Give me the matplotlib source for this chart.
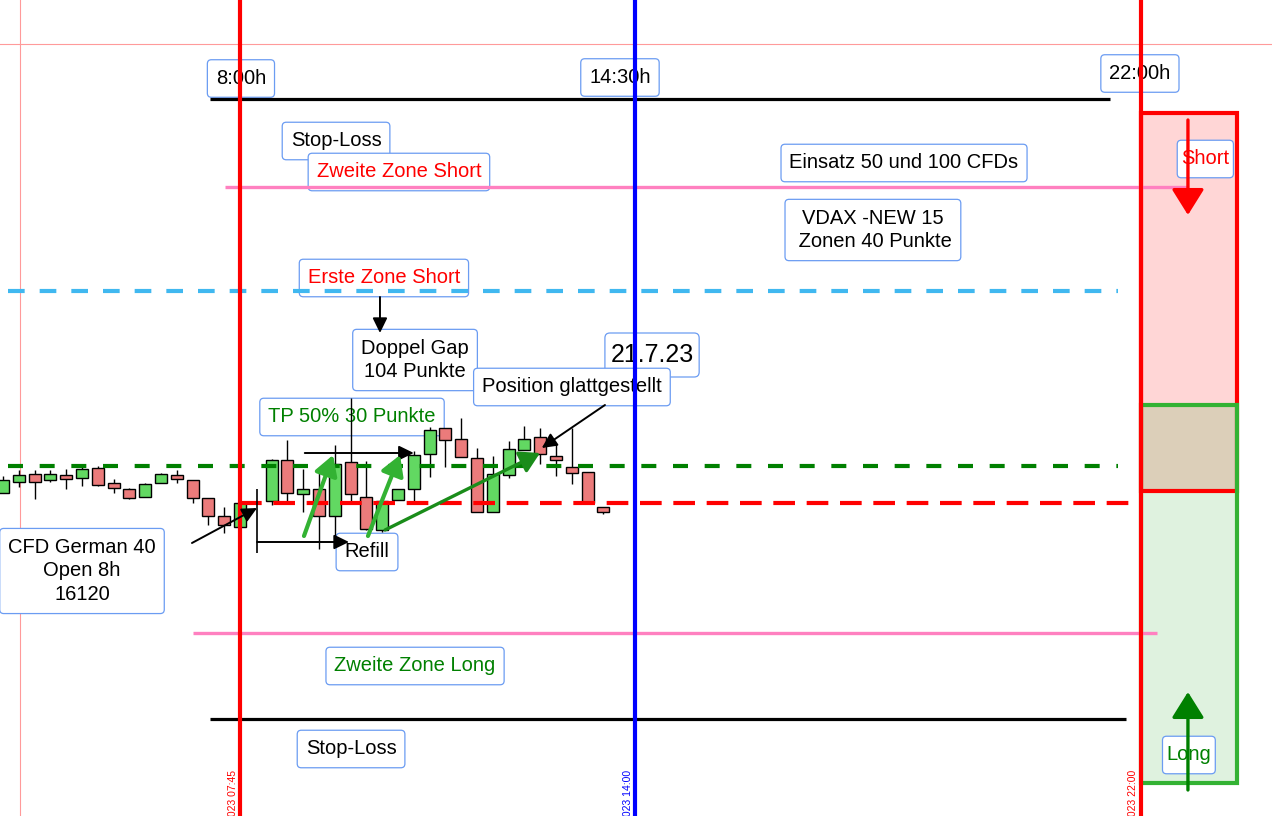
import numpy as np
import matplotlib
matplotlib.use("Agg")
import matplotlib.pyplot as plt
from matplotlib.patches import Rectangle, BoxStyle

plt.rcParams["font.family"] = ["Liberation Sans", "DejaVu Sans"]

# CFD German 40, 15 min candles on 21.7.23 (bar 16 has no candle)
opens = [16093, 16104, 16112, 16106, 16111, 16108, 16118, 16103, 16097, 16089,
         16103, 16111, 16106, 16088, 16070, 16059, np.nan, 16085, 16126, 16092,
         16097, 16070, 16124, 16089, 16056, 16086, 16097, 16132, 16158, 16147,
         16128, 16074, 16111, 16136, 16149, 16130, 16119, 16114, 16079]
highs = [16110, 16116, 16116, 16116, 16117, 16122, 16120, 16107, 16098, 16103,
         16113, 16116, 16106, 16088, 16079, 16083, np.nan, 16127, 16146, 16117,
         16116, 16141, 16188, 16125, 16085, 16097, 16135, 16159, 16158, 16168,
         16138, 16130, 16145, 16160, 16158, 16142, 16158, 16114, 16079]
lows = [16093, 16099, 16087, 16104, 16097, 16100, 16100, 16093, 16087, 16089,
        16103, 16103, 16083, 16061, 16053, 16059, np.nan, 16081, 16083, 16074,
        16037, 16044, 16083, 16056, 16054, 16086, 16085, 16109, 16119, 16129,
        16074, 16074, 16108, 16136, 16122, 16110, 16102, 16083, 16072]
closes = [16106, 16111, 16104, 16112, 16107, 16117, 16101, 16098, 16088, 16102,
          16112, 16107, 16088, 16070, 16061, 16083, np.nan, 16126, 16093, 16097,
          16070, 16122, 16092, 16057, 16085, 16097, 16131, 16156, 16146, 16129,
          16074, 16112, 16137, 16147, 16132, 16126, 16113, 16083, 16074]

# levels
stop_short = 16487
zone2_short = 16399
zone1_short = 16295
open_level = 16120
gap_level = 16083
zone2_long = 15953
stop_long = 15867
grid_level = 16542

# session lines (bar index) and their labels
session_bars = [15, 40, 72]
session_colors = ["#ff0000", "#0000ff", "#ff0000"]
session_labels = ["8:00h", "14:30h", "22:00h"]
session_label_pos = [(15.06, 16507.5), (39.05, 16508.5), (71.96, 16512.5)]
stamp_labels = ["21.07.2023 07:45", "21.07.2023 14:00", "21.07.2023 22:00"]

short_zone = [16095, 16473]
long_zone = [15803, 16181]
panel_bars = [72, 78.1]

fig = plt.figure(figsize=(12.72, 8.16), dpi=100)
ax = fig.add_axes([0, 0, 1, 1])
ax.set_xlim(-0.19, 80.32)
ax.set_ylim(15770, 16586)
ax.axis("off")

_round = BoxStyle.Round(pad=0.0, rounding_size=0.2)


def make_box(padx, pady):
    def box(x0, y0, width, height, mutation_size):
        px = padx * mutation_size
        py = pady * mutation_size
        return _round(x0 - px, y0 - py, width + 2 * px, height + 2 * py, mutation_size)
    return box


def label(x, y, s, color="black", size=14.5, padx=0.42, pady=0.46):
    ax.text(x, y, s, color=color, fontsize=size, ha="center", va="center",
            multialignment="center", linespacing=1.32, zorder=1,
            bbox=dict(boxstyle=make_box(padx, pady), fc="white", ec="#6b9cf2", lw=0.9))


def arrow(start, end, color="black", lw=1.4, head="-|>,head_length=0.45,head_width=0.22"):
    ax.annotate("", xy=end, xytext=start, zorder=5,
                arrowprops=dict(arrowstyle=head, color=color, lw=lw,
                                mutation_scale=20, shrinkA=0, shrinkB=0))


# thin reference grid lines
ax.axhline(grid_level, color="#ff9a9a", lw=0.8, zorder=0.5)
ax.axvline(1.08, color="#ff9a9a", lw=0.8, zorder=0.5)

# right panel: short / long zones
pw = panel_bars[1] - panel_bars[0]
ax.add_patch(Rectangle((panel_bars[0], short_zone[0]), pw, short_zone[1] - short_zone[0],
                       fc="#ffd6d6", ec="none", zorder=0.6))
ax.add_patch(Rectangle((panel_bars[0], long_zone[0]), pw, long_zone[1] - long_zone[0],
                       fc="#dff2df", ec="none", zorder=0.6))
ax.add_patch(Rectangle((panel_bars[0], short_zone[0]), pw, long_zone[1] - short_zone[0],
                       fc="#dccfb9", ec="none", zorder=0.7))
ax.add_patch(Rectangle((panel_bars[0], short_zone[0]), pw, short_zone[1] - short_zone[0],
                       fc="none", ec="#ff0000", lw=3, zorder=2))
ax.add_patch(Rectangle((panel_bars[0], long_zone[0]), pw, long_zone[1] - long_zone[0],
                       fc="none", ec="#33b233", lw=3, zorder=2.1))

# text boxes
for (lx, ly), s in zip(session_label_pos, session_labels):
    label(lx, ly, s)
label(21.08, 16445, "Stop-Loss")
label(25.06, 16414, "Zweite Zone Short", color="#ff0000")
label(57.03, 16423, "Einsatz 50 und 100 CFDs")
label(55.06, 16356, "VDAX -NEW 15\n Zonen 40 Punkte")
label(24.11, 16308, "Erste Zone Short", color="#ff0000")
label(26.08, 16226, "Doppel Gap\n104 Punkte")
label(41.08, 16231, "21.7.23", size=18, padx=0.22, pady=0.4)
label(36.01, 16199, "Position glattgestellt")
label(22.09, 16169, "TP 50% 30 Punkte", color="#008000")
label(5.0, 16015, "CFD German 40\nOpen 8h\n16120")
label(23.04, 16034, "Refill")
label(26.08, 15920, "Zweite Zone Long", color="#008000")
label(22.03, 15837, "Stop-Loss")
label(76.1, 16427, "Short", color="#ff0000", padx=0.2)
label(75.06, 15831, "Long", color="#008000", padx=0.2)

# candles
o = np.array(opens, float)
h = np.array(highs, float)
l = np.array(lows, float)
c = np.array(closes, float)
x = np.arange(len(o))
ok = ~np.isnan(o)
up = c >= o
ax.vlines(x[ok], l[ok], h[ok], color="black", lw=1, zorder=2)
ax.bar(x[ok], (c - o)[ok], bottom=o[ok], width=0.76,
       color=np.where(up, "#62d862", "#eb7b7b")[ok], edgecolor="black", lw=1, zorder=2.5)

# level lines
ax.hlines(stop_short, 13.1, 70.06, color="black", lw=2.3, zorder=3)
ax.hlines(stop_long, 13.1, 71.08, color="black", lw=2.3, zorder=3)
ax.hlines(zone2_short, 14.05, 75.0, color="#ff80c0", lw=2.4, zorder=3)
ax.hlines(zone2_long, 12.03, 73.04, color="#ff80c0", lw=2.4, zorder=3)
ax.plot([0.32, 70.6], [zone1_short] * 2, color="#40b8f0", lw=3, ls=(0, (4.0, 3.6)), zorder=3)
ax.plot([0.32, 70.6], [open_level] * 2, color="#008000", lw=3, ls=(0, (3.6, 4.0)), zorder=3)
ax.plot([15, 72], [gap_level] * 2, color="#ff0000", lw=3, ls=(0, (5.2, 2.8)), zorder=3)

# session lines
for b, col, s in zip(session_bars, session_colors, stamp_labels):
    ax.axvline(b, color=col, lw=3, zorder=3.5)
    ax.text(b - 0.45, 15816, s, color=col, fontsize=7.5, rotation=90,
            ha="center", va="top", zorder=3)

# annotation arrows
arrow((11.96, 16043), (16.08, 16078))
arrow((23.86, 16289), (23.86, 16253))
arrow((38.1, 16181), (34.1, 16138))
ax.vlines(16.08, 16033, 16097, color="black", lw=1.2, zorder=4)
arrow((16.08, 16044), (21.9, 16044))
arrow((19.1, 16133), (26.0, 16133))

# trade arrows
gh = "-|>,head_length=0.6,head_width=0.35"
arrow((19.05, 16050), (20.89, 16131), color="#33b233", lw=3, head=gh)
arrow((23.1, 16050), (25.13, 16131), color="#33b233", lw=3, head=gh)
arrow((24.18, 16056), (33.99, 16133), color="#1a8c1a", lw=2.4, head=gh)

# direction arrows in the panel
ph = "-|>,head_length=0.8,head_width=0.5"
arrow((75.0, 16466), (75.0, 16371), color="#ff0000", lw=2.4, head=ph)
arrow((75.0, 15796), (75.0, 15894), color="#008000", lw=2.4, head=ph)

fig.savefig("out.png", dpi=100)
